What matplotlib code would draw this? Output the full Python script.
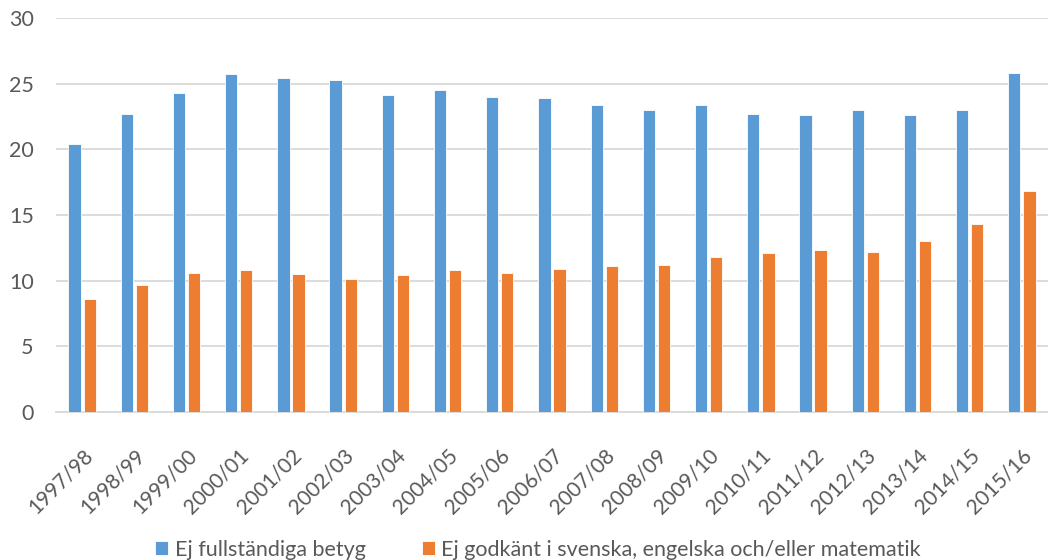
import numpy as np
import matplotlib.pyplot as plt

plt.rcParams['font.family'] = ['Lato', 'DejaVu Sans']

years = ['1997/98', '1998/99', '1999/00', '2000/01', '2001/02', '2002/03', '2003/04',
         '2004/05', '2005/06', '2006/07', '2007/08', '2008/09', '2009/10', '2010/11',
         '2011/12', '2012/13', '2013/14', '2014/15', '2015/16']
ej_fullst = [20.4, 22.7, 24.3, 25.7, 25.4, 25.3, 24.1, 24.5, 24.0, 23.9, 23.4, 23.0,
             23.4, 22.7, 22.6, 23.0, 22.6, 23.0, 25.8]
ej_godk = [8.6, 9.7, 10.6, 10.8, 10.5, 10.1, 10.4, 10.8, 10.6, 10.9, 11.1, 11.2,
           11.8, 12.1, 12.3, 12.2, 13.0, 14.3, 16.8]

blue = '#5b9bd5'
orange = '#ed7d31'
txt = '#595959'

fig = plt.figure(figsize=(10.48, 5.6), dpi=100)
ax = fig.add_axes([56/1048, 1-412/560, 1-56/1048, (412-18)/560])

x = np.arange(len(years))
w = 0.235
ax.bar(x - 0.145, ej_fullst, w, color=blue, edgecolor='white', linewidth=0.6,
       label='Ej fullständiga betyg', zorder=3)
ax.bar(x + 0.145, ej_godk, w, color=orange, edgecolor='white', linewidth=0.6,
       label='Ej godkänt i svenska, engelska och/eller matematik', zorder=3)

ax.set_xlim(-0.5, len(years) - 0.5)
ax.set_ylim(0, 30)
ax.set_yticks(range(0, 31, 5))
ax.yaxis.grid(True, color='#d9d9d9', linewidth=1.3, zorder=0)
for s in ['top', 'right', 'left']:
    ax.spines[s].set_visible(False)
ax.spines['bottom'].set_color('#d9d9d9')
ax.spines['bottom'].set_linewidth(1.3)
ax.tick_params(axis='y', length=0, labelsize=15.5, labelcolor=txt, pad=16)
ax.tick_params(axis='x', length=0, labelsize=15, labelcolor=txt, pad=24)
ax.set_xticks(x)
ax.set_xticklabels(years, rotation=45, ha='right', rotation_mode='anchor')

ax.legend(loc='center', bbox_to_anchor=(0.5 - 14/992, -0.35), ncol=2, frameon=False,
          fontsize=15.5, labelcolor=txt, handlelength=0.6, handleheight=0.6,
          handletextpad=0.32, columnspacing=2.6)

fig.savefig('out.png', dpi=100)
